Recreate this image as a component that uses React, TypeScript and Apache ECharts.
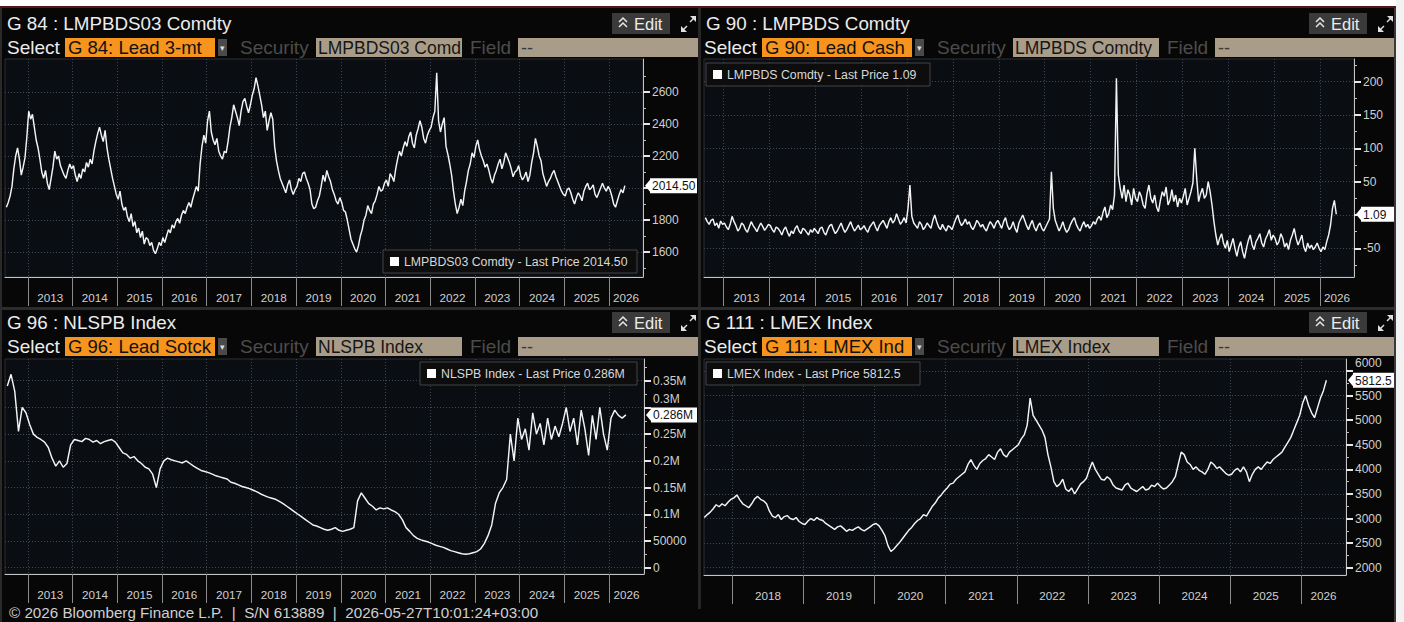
import React, { useEffect, useRef } from "react";
import * as echarts from "echarts";

// ---------------- DATA ----------------
// G 84 : LMPBDS03 Comdty (Lead 3-month), two readings per month from 2012-07
const TL_START: [number, number] = [2012, 7];
const TL_VALUES = [
  1880, 1910, 1950, 2010, 2120, 2200, 2250, 2180, 2080, 2130, 2190, 2320,
  2480, 2430, 2460, 2380, 2300, 2250, 2180, 2100, 2060, 2110, 2030, 1990, 2060, 2130, 2230, 2180, 2200, 2140, 2110, 2080, 2060, 2110, 2150, 2120,
  2140, 2080, 2040, 2090, 2060, 2120, 2100, 2160, 2130, 2180, 2150, 2230, 2290, 2340, 2380, 2330, 2290, 2360, 2250, 2180, 2120, 2060, 2010, 1960,
  1930, 1980, 1900, 1860, 1880, 1820, 1790, 1840, 1760, 1790, 1720, 1750, 1690, 1730, 1650, 1690, 1680, 1640, 1660, 1610, 1590, 1620, 1660, 1640,
  1690, 1660, 1700, 1740, 1720, 1770, 1750, 1790, 1810, 1780, 1830, 1860, 1840, 1880, 1910, 1880, 1930, 1970, 2010, 1980, 2150, 2260, 2330, 2280,
  2420, 2480, 2350, 2300, 2270, 2310, 2230, 2200, 2180, 2230, 2220, 2290, 2380, 2440, 2520, 2480, 2440, 2390, 2480, 2540, 2560, 2510, 2470, 2520,
  2580, 2620, 2690, 2640, 2580, 2520, 2440, 2480, 2360, 2420, 2470, 2430, 2260, 2170, 2110, 2060, 2030, 2000, 1970, 2020, 2050, 1990, 1960, 1990,
  2010, 2060, 2040, 2090, 2100, 2060, 2030, 1990, 1900, 1870, 1880, 1920, 1950, 2010, 2080, 2040, 2110, 2070, 2040, 1990, 1960, 1920, 1900, 1940,
  1910, 1860, 1850, 1800, 1740, 1680, 1650, 1620, 1600, 1640, 1700, 1740, 1800, 1830, 1890, 1860, 1840, 1900, 1920, 1960, 2010, 1980, 1990, 2030,
  2050, 2010, 2090, 2070, 2040, 2120, 2180, 2230, 2200, 2250, 2290, 2260, 2320, 2350, 2280, 2250, 2330, 2370, 2420, 2380, 2310, 2280, 2330, 2360,
  2380, 2440, 2480, 2720, 2420, 2350, 2400, 2440, 2260, 2210, 2150, 2080, 1980, 1900, 1840, 1880, 1930, 1890, 1980, 2040, 2110, 2150, 2220, 2190,
  2260, 2300, 2240, 2200, 2170, 2130, 2150, 2110, 2060, 2030, 2080, 2110, 2150, 2180, 2120, 2160, 2220, 2190, 2160, 2120, 2070, 2100, 2110, 2140,
  2080, 2050, 2070, 2100, 2040, 2080, 2160, 2220, 2310, 2260, 2200, 2170, 2090, 2050, 2010, 2040, 2060, 2090, 2110, 2070, 2040, 2010, 1980, 1960,
  1950, 1990, 2000, 1970, 1930, 1900, 1940, 1970, 1950, 1920, 1980, 2010, 2030, 1990, 2000, 2020, 1960, 1940, 1970, 2000, 2030, 2000, 1980, 2010,
  1990, 1950, 1900, 1880, 1920, 1960, 1990, 1970, 2014.5,
];

// G 90 : LMPBDS Comdty (Lead cash-3m spread), two readings per month from 2012-08
const TR_START: [number, number] = [2012, 8];
const TR_VALUES = [
  -4, -10, -14, -8, -6, -16, -12, -20, -9, -14,
  -12, -18, -22, -14, -2, -10, -16, -24, -20, -12, -15, -22, -26, -18, -10, -16, -20, -25, -18, -12, -17, -23, -19, -14,
  -16, -22, -26, -18, -20, -24, -30, -22, -18, -26, -32, -24, -28, -20, -16, -24, -28, -20, -22, -26, -30, -22, -26, -20,
  -24, -28, -20, -18, -26, -30, -22, -16, -14, -22, -28, -24, -18, -12, -20, -26, -22, -16, -10, -18, -24, -20, -15, -22,
  -20, -16, -22, -26, -18, -14, -10, -18, -24, -16, -12, -8, -14, -20, -10, -4, -12, -8, 2, -6, -14, -10, -4, -12,
  10, 45, -2, -12, -16, -20, -10, -14, -22, -18, -12, -16, -20, -8, 0, -10, -18, -22, -14, -20, -24, -16, -18, -22,
  -14, -6, 0, -10, -16, -12, -6, -14, -10, -18, -22, -16, -8, -12, -18, -14, -20, -24, -16, -10, -14, -20, -12, -8,
  -14, -20, -10, -4, -16, -22, -18, -10, -20, -26, -12, -6, 0, -8, -16, -22, -14, -8, -18, -24, -16, -12, -20, -24,
  -18, -12, -6, 65, 10, -8, -16, -24, -18, -10, -20, -26, -22, -14, -8, -4, -14, -20, -24, -16, -10, -18, -14, -20,
  -16, -10, -14, -6, -2, -8, 4, 12, -4, 2, 15, 8, 30, 205, 60, 40, 25, 45, 20, 38, 30, 15, 40, 25,
  20, 35, 28, 15, 10, 32, 45, 25, 18, 30, 12, 5, 22, 35, 28, 42, 15, 22, 38, 20, 30, 12, 25, 18,
  28, 40, 15, 25, 35, 48, 100, 55, 20, 32, 40, 25, 30, 50, 35, 15, -10, -30, -45, -35, -28, -42, -50, -38,
  -55, -45, -35, -50, -62, -48, -40, -55, -65, -50, -38, -30, -45, -52, -40, -35, -28, -42, -48, -36, -30, -22, -38, -30,
  -35, -45, -40, -28, -35, -48, -42, -52, -38, -30, -20, -35, -45, -38, -30, -48, -55, -42, -50, -45, -52, -48, -42, -50,
  -55, -48, -52, -40, -30, -15, 10, 22, 1.09,
];

// G 96 : NLSPB Index (Lead stocks, tonnes), one reading per month from 2012-07
const BL_START: [number, number] = [2012, 7];
const BL_VALUES = [
  340000, 362000, 330000, 255000, 300000, 290000,
  268000, 250000, 244000, 240000, 235000, 225000, 205000, 190000, 200000, 188000, 195000, 230000,
  240000, 238000, 236000, 242000, 240000, 235000, 238000, 232000, 236000, 238000, 240000, 235000,
  225000, 215000, 212000, 205000, 208000, 200000, 195000, 188000, 185000, 175000, 150000, 185000,
  200000, 205000, 202000, 200000, 198000, 196000, 200000, 195000, 190000, 186000, 182000, 180000,
  178000, 175000, 172000, 170000, 168000, 166000, 160000, 158000, 155000, 152000, 150000, 148000,
  145000, 142000, 138000, 135000, 132000, 130000, 128000, 124000, 120000, 115000, 110000, 105000,
  100000, 95000, 90000, 85000, 80000, 78000, 75000, 72000, 70000, 72000, 75000, 70000,
  68000, 70000, 72000, 75000, 125000, 140000, 130000, 120000, 115000, 108000, 112000, 110000,
  112000, 108000, 105000, 100000, 90000, 75000, 68000, 60000, 55000, 52000, 50000, 48000,
  45000, 42000, 40000, 38000, 35000, 32000, 30000, 28000, 26000, 25000, 26000, 28000,
  30000, 35000, 45000, 60000, 80000, 120000, 140000, 150000, 165000, 250000, 200000, 280000,
  240000, 260000, 220000, 290000, 250000, 270000, 230000, 280000, 240000, 265000, 245000, 270000,
  300000, 255000, 280000, 230000, 295000, 260000, 210000, 285000, 240000, 300000, 250000, 220000,
  280000, 295000, 285000, 280000, 286000,
];

// G 111 : LMEX Index, two readings per month from 2017-08
const BR_START: [number, number] = [2017, 8];
const BR_VALUES = [
  3020, 3080, 3130, 3200, 3280, 3240, 3300, 3260, 3330, 3390,
  3420, 3480, 3380, 3300, 3260, 3220, 3300, 3400, 3450, 3390, 3360, 3300, 3150, 3050, 3020, 3080, 2980, 3040, 3060, 3000, 2980, 3020, 2940, 2900,
  2880, 2950, 3000, 2960, 3020, 2980, 2960, 2900, 2860, 2820, 2780, 2830, 2850, 2800, 2740, 2780, 2760, 2800, 2830, 2780, 2750, 2790, 2830, 2880,
  2900, 2850, 2760, 2650, 2450, 2330, 2380, 2450, 2520, 2600, 2680, 2760, 2820, 2900, 2960, 3000, 3080, 3050, 3150, 3250, 3320, 3420, 3480, 3560,
  3620, 3700, 3720, 3800, 3850, 3900, 3950, 4100, 4200, 4080, 4000, 4120, 4180, 4220, 4300, 4250, 4200, 4350, 4420, 4300, 4250, 4350, 4400, 4450,
  4500, 4620, 4700, 4900, 5450, 5100, 5000, 4900, 4800, 4650, 4300, 4050, 3750, 3650, 3700, 3800, 3600, 3550, 3620, 3500, 3600, 3700, 3750, 3820,
  4000, 4150, 4000, 3900, 3800, 3780, 3850, 3800, 3680, 3620, 3600, 3580, 3680, 3720, 3620, 3580, 3550, 3600, 3650, 3580, 3600, 3680, 3650, 3720,
  3650, 3600, 3620, 3680, 3750, 3850, 4100, 4350, 4300, 4150, 4100, 4000, 4050, 3980, 3950, 3900, 4000, 4150, 4100, 4020, 4050, 3980, 3920, 3880,
  3900, 3980, 4020, 3950, 4050, 3950, 3750, 3900, 4000, 4050, 4000, 4080, 4150, 4120, 4200, 4250, 4300, 4350, 4450, 4550, 4650, 4800, 4950, 5100,
  5350, 5500, 5300, 5150, 5050, 5250, 5450, 5600, 5812.5,
];

const LONG_YEARS = [2013, 2014, 2015, 2016, 2017, 2018, 2019, 2020, 2021, 2022, 2023, 2024, 2025, 2026];
const SHORT_YEARS = [2018, 2019, 2020, 2021, 2022, 2023, 2024, 2025, 2026];

const TL_YTICKS = [1600, 1800, 2000, 2200, 2400, 2600];
const TL_YLABELS = [1600, 1800, 2200, 2400, 2600];
const TL_YMINOR = [1500, 1700, 1900, 2100, 2300, 2500, 2700];
const TR_YTICKS = [-50, 0, 50, 100, 150, 200];
const TR_YLABELS = [-50, 50, 100, 150, 200];
const TR_YMINOR = [-75, -25, 25, 75, 125, 175, 225];
const BL_YTICKS = [0, 50000, 100000, 150000, 200000, 250000, 300000, 350000];
const BL_YLABELS = [0, 50000, 100000, 150000, 200000, 250000, 300000, 350000];
const BL_YMINOR = [25000, 75000, 125000, 175000, 225000, 275000, 325000, 375000];
const BR_YTICKS = [2000, 2500, 3000, 3500, 4000, 4500, 5000, 5500, 6000];
const BR_YLABELS = [2000, 2500, 3000, 3500, 4000, 4500, 5000, 5500, 6000];
const BR_YMINOR = [2250, 2750, 3250, 3750, 4250, 4750, 5250, 5750];

const TITLES = ["G 84 : LMPBDS03 Comdty", "G 90 : LMPBDS Comdty", "G 96 : NLSPB Index", "G 111 : LMEX Index"];
const SELECTS = ["G 84: Lead 3-mt", "G 90: Lead Cash", "G 96: Lead Sotck", "G 111: LMEX Index"];
const SECURITIES = ["LMPBDS03 Comd", "LMPBDS Comdty", "NLSPB Index", "LMEX Index"];
const LEGENDS = [
  "LMPBDS03 Comdty - Last Price 2014.50",
  "LMPBDS Comdty - Last Price 1.09",
  "NLSPB Index - Last Price 0.286M",
  "LMEX Index - Last Price 5812.5",
];
const LAST_TAGS = ["2014.50", "1.09", "0.286M", "5812.5"];
const FOOTER = "\u00A9 2026 Bloomberg Finance L.P.  |  S/N 613889  |  2026-05-27T10:01:24+03:00";

// ---------------- LAYOUT ----------------
const W = 1404;
const H = 622;
const FONT = '"Liberation Sans",Arial,sans-serif';

type Panel = {
  hx: number; hy: number;
  grid: { left: number; top: number; width: number; height: number };
  xMin: number; xMax: number; yMin: number; yMax: number;
  years: number[]; yticks: number[]; ylabels: number[]; yminor: number[]; lift: number[];
  start: [number, number]; values: number[]; perMonth: number;
  yfmt: (v: number) => string;
  legend: { x: number; y: number; w: number };
};

const fmtPlain = (v: number) => String(v);
const fmtM = (v: number) => (v >= 100000 ? `${+(v / 1e6).toFixed(2)}M` : String(v));

const PANELS: Panel[] = [
  {
    hx: 0, hy: 0,
    grid: { left: 5, top: 59, width: 638, height: 218 },
    xMin: 2012.49, xMax: 2026.76, yMin: 1444, yMax: 2806,
    years: LONG_YEARS, yticks: TL_YTICKS, ylabels: TL_YLABELS, yminor: TL_YMINOR, lift: [],
    start: TL_START, values: TL_VALUES, perMonth: 2, yfmt: fmtPlain,
    legend: { x: 383, y: 250, w: 254 },
  },
  {
    hx: 697, hy: 0,
    grid: { left: 704, top: 59, width: 650, height: 218 },
    xMin: 2012.575, xMax: 2026.74, yMin: -93, yMax: 234,
    years: LONG_YEARS, yticks: TR_YTICKS, ylabels: TR_YLABELS, yminor: TR_YMINOR, lift: [],
    start: TR_START, values: TR_VALUES, perMonth: 2, yfmt: fmtPlain,
    legend: { x: 706, y: 63, w: 224 },
  },
  {
    hx: 0, hy: 299,
    grid: { left: 5, top: 359, width: 639, height: 215 },
    xMin: 2012.49, xMax: 2026.78, yMin: -11800, yMax: 390600,
    years: LONG_YEARS, yticks: BL_YTICKS, ylabels: BL_YLABELS, yminor: BL_YMINOR, lift: [300000],
    start: BL_START, values: BL_VALUES, perMonth: 1, yfmt: fmtM,
    legend: { x: 420, y: 362, w: 217 },
  },
  {
    hx: 697, hy: 299,
    grid: { left: 704, top: 359, width: 642, height: 216 },
    xMin: 2017.6, xMax: 2026.63, yMin: 1852, yMax: 6244,
    years: SHORT_YEARS, yticks: BR_YTICKS, ylabels: BR_YLABELS, yminor: BR_YMINOR, lift: [6000],
    start: BR_START, values: BR_VALUES, perMonth: 2, yfmt: fmtPlain,
    legend: { x: 706, y: 362, w: 214 },
  },
];

const toPoints = (start: [number, number], values: number[], perMonth: number) =>
  values.map((v, i) => [start[0] + (start[1] - 1) / 12 + (i + 0.5) / (12 * perMonth), v]);

const txt = (x: number, y: number, text: string, size: number, fill: string, extra: any = {}) => ({
  type: "text", x, y, z: 120, silent: true,
  style: { text, fontSize: size, fill, fontFamily: FONT, verticalAlign: "middle", ...extra },
});
const box = (x: number, y: number, w: number, h: number, fill: string, stroke?: string, z = 110) => ({
  type: "rect", z, silent: true,
  shape: { x, y, width: w, height: h },
  style: { fill, stroke: stroke || null, lineWidth: stroke ? 1 : 0 },
});

function headerGraphics(p: Panel, i: number) {
  const x0 = p.hx;
  const y0 = p.hy;
  const g: any[] = [];
  g.push(txt(x0 + 7 + (i % 2 ? 2 : 0), y0 + 23, TITLES[i], 18.8, "#ececec"));
  // edit button
  g.push(box(x0 + 612, y0 + 13, 58, 21, "#3a3a3a"));
  g.push({ type: "polyline", z: 121, silent: true, shape: { points: [[x0 + 619, y0 + 22], [x0 + 623, y0 + 18], [x0 + 627, y0 + 22]] }, style: { stroke: "#e8e8e8", lineWidth: 1.5, fill: null } });
  g.push({ type: "polyline", z: 121, silent: true, shape: { points: [[x0 + 619, y0 + 27], [x0 + 623, y0 + 23], [x0 + 627, y0 + 27]] }, style: { stroke: "#e8e8e8", lineWidth: 1.5, fill: null } });
  g.push(txt(x0 + 634, y0 + 23.5, "Edit", 16.5, "#ececec"));
  // expand icon
  g.push({ type: "line", z: 121, silent: true, shape: { x1: x0 + 682, y1: y0 + 31, x2: x0 + 687, y2: y0 + 26 }, style: { stroke: "#e0e0e0", lineWidth: 1.5 } });
  g.push({ type: "polygon", z: 121, silent: true, shape: { points: [[x0 + 681, y0 + 32], [x0 + 681, y0 + 26], [x0 + 687, y0 + 32]] }, style: { fill: "#e0e0e0" } });
  g.push({ type: "line", z: 121, silent: true, shape: { x1: x0 + 690, y1: y0 + 22, x2: x0 + 695, y2: y0 + 17 }, style: { stroke: "#e0e0e0", lineWidth: 1.5 } });
  g.push({ type: "polygon", z: 121, silent: true, shape: { points: [[x0 + 696, y0 + 16], [x0 + 690, y0 + 16], [x0 + 696, y0 + 22]] }, style: { fill: "#e0e0e0" } });
  // select row
  const ry = y0 + 47.5;
  g.push(txt(x0 + 7, ry, "Select", 19, "#ececec"));
  g.push(box(x0 + 65, y0 + 38, 150, 19, "#f7941d"));
  g.push(txt(x0 + 68, ry, SELECTS[i], 18.5, "#111111", { width: 146, overflow: "truncate", ellipsis: "" }));
  g.push(box(x0 + 218, y0 + 39, 9, 17, "#4a4a4a"));
  g.push(txt(x0 + 219.5, ry, "\u25BE", 9, "#dddddd"));
  g.push(txt(x0 + 240, ry, "Security", 19, "#4c4c4c"));
  g.push(box(x0 + 316, y0 + 38, 146, 19, "#a99d8a"));
  g.push(txt(x0 + 318, ry, SECURITIES[i], 17.5, "#161616"));
  g.push(txt(x0 + 470, ry, "Field", 19, "#4c4c4c"));
  g.push(box(x0 + 518, y0 + 38, 180, 19, "#a99d8a"));
  g.push(txt(x0 + 521, ry, "--", 18, "#3a3a3a"));
  // legend box
  const L = p.legend;
  g.push(box(L.x, L.y, L.w, 23, "#0d0d0d", "#444444"));
  g.push(box(L.x + 7, L.y + 7, 9, 9, "#ffffff"));
  g.push(txt(L.x + 21, L.y + 12, LEGENDS[i], 12.3, "#d8d8d8"));
  return g;
}

function buildOption() {
  const grids: any[] = [];
  const xAxes: any[] = [];
  const yAxes: any[] = [];
  const minorAxes: any[] = [];
  const series: any[] = [];
  PANELS.forEach((p, i) => {
    grids.push({
      ...p.grid, show: true, backgroundColor: "#0a0d12", borderColor: "#2a2f36", borderWidth: 1,
      containLabel: false,
    });
    const labelPos = p.years.map((y, k) => (k < p.years.length - 1 ? y + 0.5 : (y + p.xMax) / 2));
    xAxes.push({
      type: "value", gridIndex: i, min: p.xMin, max: p.xMax,
      axisLine: { show: true, onZero: false, lineStyle: { color: "#c4c4c4", width: 1 } },
      axisTick: { show: true, customValues: p.years, length: 29, lineStyle: { color: "#8c8c8c", width: 1 } },
      axisLabel: {
        customValues: labelPos, formatter: (v: number) => String(Math.floor(v)),
        color: "#cfcfcf", fontSize: 11.7, fontFamily: FONT, margin: 14,
      },
      splitLine: { show: true, lineStyle: { color: "#3d4756", type: [1, 2], width: 1 } },
    });
    yAxes.push({
      type: "value", gridIndex: i, position: "right", min: p.yMin, max: p.yMax,
      axisLine: { show: true, onZero: false, lineStyle: { color: "#c4c4c4", width: 1 } },
      axisTick: { show: true, customValues: p.yticks, length: 7, lineStyle: { color: "#e6e6e6", width: 2 } },
      axisLabel: {
        customValues: p.ylabels,
        formatter: (v: number) => (p.lift.indexOf(v) >= 0 ? `{up|${p.yfmt(v)}}` : p.yfmt(v)),
        rich: { up: { padding: [0, 0, 16, 0], color: "#cfcfcf", fontSize: 12, fontFamily: FONT } },
        color: "#cfcfcf", fontSize: 12, fontFamily: FONT, margin: 9,
      },
      splitLine: { show: true, lineStyle: { color: "#3d4756", type: [1, 2], width: 1 } },
    });
    minorAxes.push({
      type: "value", gridIndex: i, position: "right", min: p.yMin, max: p.yMax,
      axisLine: { show: false },
      axisTick: { show: true, customValues: p.yminor, length: 3, lineStyle: { color: "#bdbdbd", width: 1 } },
      axisLabel: { show: false },
      splitLine: { show: false },
    });
    series.push({
      type: "line", xAxisIndex: i, yAxisIndex: i, showSymbol: false, symbol: "none",
      data: toPoints(p.start, p.values, p.perMonth),
      lineStyle: { color: "#f4f4f4", width: 1.45 }, clip: true, z: 5,
    });
  });
  return {
    animation: false,
    backgroundColor: "#070707",
    grid: grids, xAxis: xAxes, yAxis: [...yAxes, ...minorAxes], series,
  };
}

function staticGraphics() {
  const g: any[] = [];
  // page chrome
  g.push(box(0, 0, W, 6, "#ffffff", undefined, 130));
  g.push(box(0, 6, W, 2, "#5a1616", undefined, 130));
  g.push(box(1396, 0, 8, H, "#f2f2f2", undefined, 130));
  g.push(box(1394, 8, 2, H - 8, "#3a3a3a", undefined, 130));
  g.push(box(0, 8, 2, H - 8, "#2a2a2a", undefined, 130));
  // panel dividers
  g.push(box(698, 8, 3, 300, "#262626", undefined, 105));
  g.push(box(698, 309, 3, 300, "#262626", undefined, 105));
  g.push(box(0, 307, 1394, 3, "#2c2c2c", undefined, 105));
  PANELS.forEach((p, i) => g.push(...headerGraphics(p, i)));
  g.push(txt(9, 612, FOOTER, 15.2, "#d0d0d0"));
  return g;
}

export default function App() {
  const ref = useRef<HTMLDivElement>(null);
  useEffect(() => {
    const el = ref.current!;
    const chart = echarts.init(el, null, { renderer: "svg", width: W, height: H });
    chart.setOption(buildOption());
    const tags: any[] = [];
    PANELS.forEach((p, i) => {
      const last = p.values[p.values.length - 1];
      const pt = chart.convertToPixel({ gridIndex: i } as any, [p.xMax, last]) as number[];
      const x = p.grid.left + p.grid.width + 2;
      const y = pt[1];
      const right = i % 2 ? 1394 : 697;
      tags.push({ type: "polygon", z: 125, silent: true, shape: { points: [[x, y], [x + 5, y - 6], [x + 5, y + 6]] }, style: { fill: "#ffffff" } });
      tags.push(box(x + 5, y - 7.5, right - x - 5, 15, "#ffffff", undefined, 125));
      tags.push({ ...txt(x + 7, y + 0.5, LAST_TAGS[i], 12, "#111111"), z: 126 });
    });
    chart.setOption({ graphic: { elements: [...staticGraphics(), ...tags] } });
    return () => chart.dispose();
  }, []);
  return <div ref={ref} style={{ position: "fixed", left: 0, top: 0, width: W, height: H }} />;
}
